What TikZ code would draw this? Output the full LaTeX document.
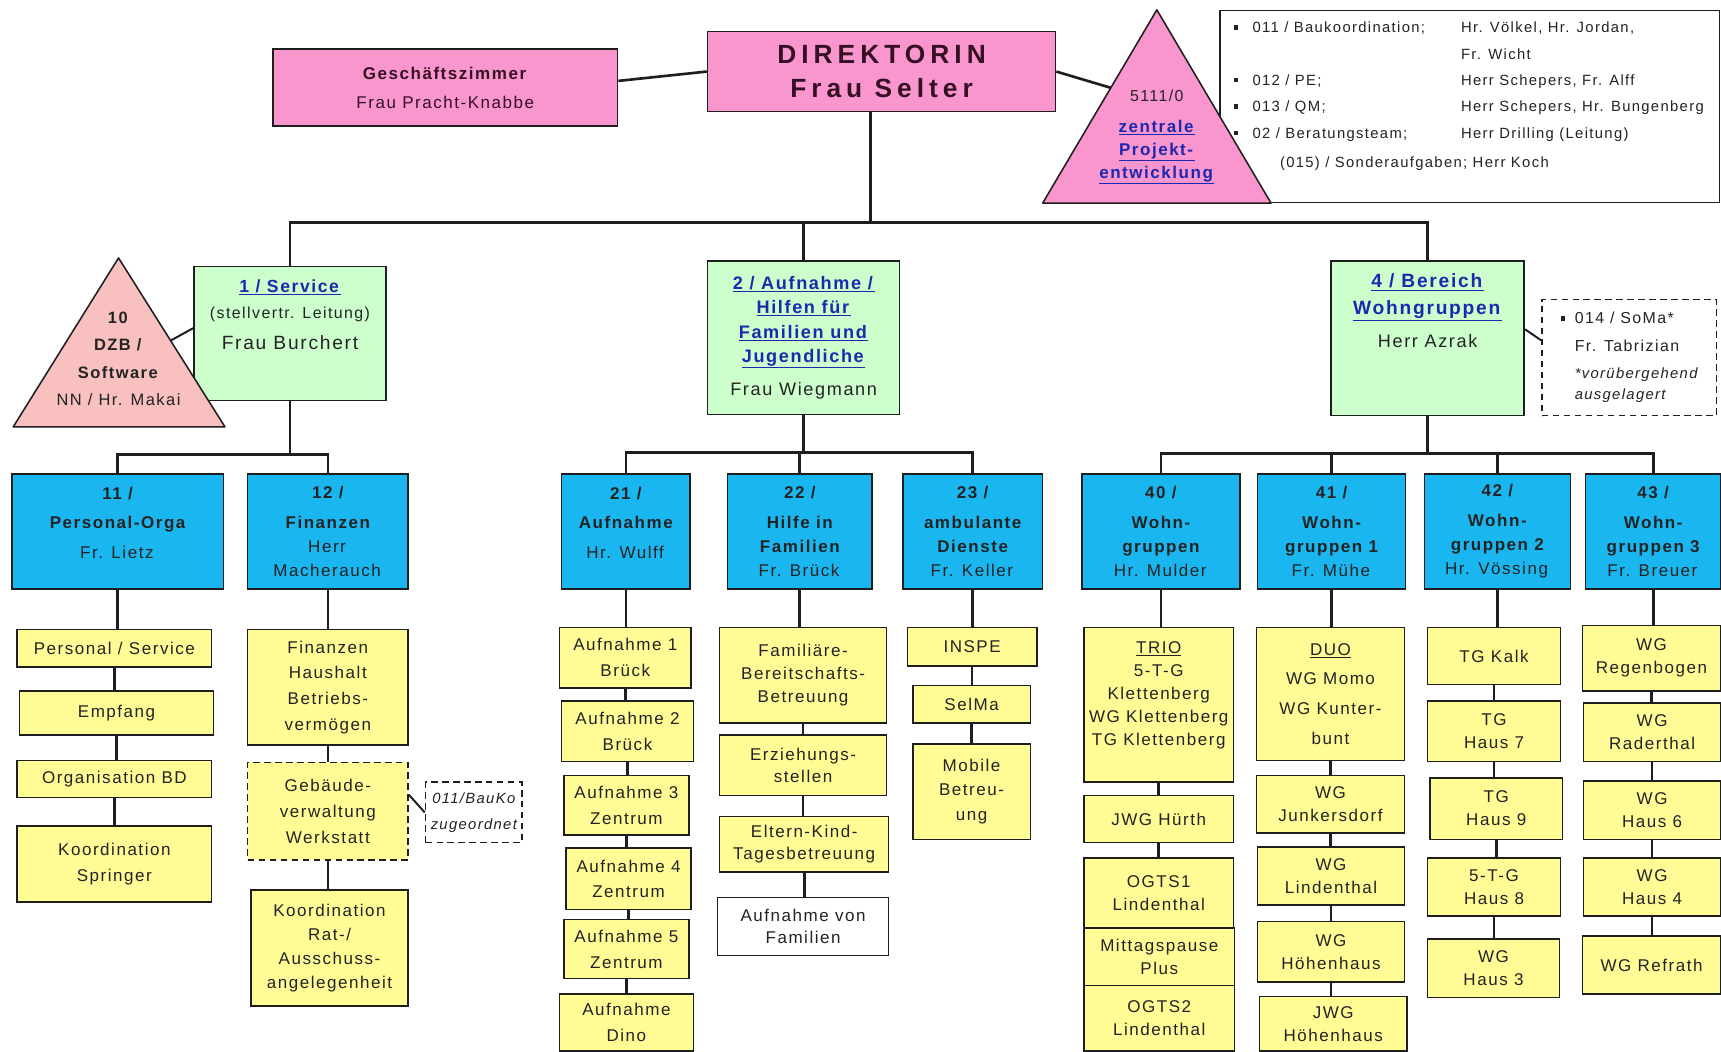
\documentclass[tikz,border=0pt]{standalone}
\usepackage{fontspec}
\setmainfont{Liberation Sans}
\newfontfamily\ls[LetterSpace=9]{Liberation Sans}
\newfontfamily\dirf[LetterSpace=19]{Liberation Sans}
\definecolor{pnk}{RGB}{248,150,205}
\definecolor{sal}{RGB}{249,192,192}
\definecolor{grn}{RGB}{204,255,204}
\definecolor{cyn}{RGB}{25,182,240}
\definecolor{yel}{RGB}{255,252,150}
\definecolor{lnk}{RGB}{30,40,175}
\definecolor{txt}{RGB}{35,35,35}
\definecolor{linec}{RGB}{30,30,30}
\definecolor{dtx}{RGB}{55,15,35}
\pgfdeclarelayer{background}
\pgfsetlayers{background,main}
\newcommand\mkbox[7]{\node[#1,minimum width={(#5-#3)*1pt},minimum height={(#6-#4)*1pt}] (#2) at (#3,#4) {#7};}
\newcommand\lnk[1]{\textcolor{lnk}{\underline{\textbf{#1}}}}
\newcommand\bul[1]{\makebox[#1][l]{\raisebox{3pt}{\rule{3.8pt}{3.8pt}}}}
\newcommand\lk[2]{\draw[con] (#1.south) -- (#1.south |- #2.north);}
\begin{document}
\begin{tikzpicture}[x=1pt,y=-1pt,
  bx/.style={draw=linec,line width=1.4pt,anchor=north west,inner sep=1pt,align=center,text=txt,font=\ls\fontsize{15.5}{23.5}\selectfont},
  yb/.style={bx,fill=yel},
  yb4/.style={bx,fill=yel,font=\ls\fontsize{15.5}{21}\selectfont},
  cb/.style={bx,fill=cyn,font=\ls\bfseries\fontsize{15.5}{22}\selectfont},
  gb/.style={bx,fill=grn},
  pb/.style={bx,fill=pnk},
  dyb/.style={yb,dashed,dash pattern=on 6pt off 4pt},
  db/.style={bx,fill=white,dash pattern=on 6pt off 4pt},
  ib/.style={bx,fill=white},
  tri/.style={draw=linec,line width=1.4pt,line join=round},
  con/.style={draw=linec,line width=2.4pt},
  con2/.style={draw=linec,line width=1.8pt},
  tx/.style={align=center,inner sep=0,text=txt}]
\useasboundingbox (0,0) rectangle (1568,958);
\begin{pgfonlayer}{background}
\fill[white] (0,0) rectangle (1568,958);
\end{pgfonlayer}

% ---- top row
\mkbox{pb,font=\ls\fontsize{15.5}{23.5}\selectfont,text=dtx}{gz}{248}{44}{562}{114}{\textbf{Geschäftszimmer}\\[3pt]Frau Pracht-Knabbe}
\mkbox{pb,font=\dirf\bfseries\fontsize{24}{31}\selectfont,text=dtx}{dir}{644}{28}{961}{101}{DIREKTORIN\\Frau Selter}
\mkbox{ib}{info}{1111}{9}{1566}{184}{}
\node[tx,align=left,anchor=north west,font=\ls\fontsize{13.5}{24}\selectfont] (infot) at (1124,20)
 {\bul{17pt}\makebox[190pt][l]{011 / Baukoordination;}Hr. Völkel, Hr. Jordan,\\
  \hspace*{207pt}Fr. Wicht\\
  \bul{17pt}\makebox[190pt][l]{012 / PE;}Herr Schepers, Fr. Alff\\
  \bul{17pt}\makebox[190pt][l]{013 / QM;}Herr Schepers, Hr. Bungenberg\\
  \bul{17pt}\makebox[190pt][l]{02 / Beratungsteam;}Herr Drilling (Leitung)\\[3pt]
  \bul{17pt}\hspace*{25pt}(015) / Sonderaufgaben; Herr Koch};
\filldraw[tri,fill=pnk] (1054,9) -- (950,185) -- (1158,185) -- cycle;
\coordinate (zpc) at (1012,80);
\node[tx,font=\ls\fontsize{15.5}{21}\selectfont] (zp) at (1054,125)
 {{\fontsize{14.5}{21}\selectfont 5111/0}\\[7pt]\lnk{zentrale}\\\lnk{Projekt-}\\\lnk{entwicklung}};

% ---- second row
\mkbox{gb}{svc}{176}{242}{351}{364}{}
\node[tx,anchor=north,font=\ls\fontsize{14.5}{23}\selectfont] (svct) at ([yshift=-13pt]svc.north)
 {{\fontsize{16}{23}\selectfont\lnk{1 / Service}}\\(stellvertr. Leitung)\\[6pt]{\fontsize{17.5}{20}\selectfont Frau Burchert}};
\filldraw[tri,fill=sal] (108,235) -- (12,389) -- (205,389) -- cycle;
\coordinate (dzbc) at (156,310);
\node[tx,font=\ls\fontsize{15}{25}\selectfont] (dzb) at (108,327)
 {\textbf{10}\\\textbf{DZB /}\\\textbf{Software}\\NN / Hr. Makai};
\mkbox{gb,font=\ls\fontsize{16.5}{22}\selectfont}{a2}{644}{237}{819}{377}
 {\lnk{2 / Aufnahme /}\\\lnk{Hilfen für}\\\lnk{Familien und}\\\lnk{Jugendliche}\\[8pt]Frau Wiegmann}
\mkbox{gb}{wg4}{1212}{237}{1388}{378}{}
\node[tx,anchor=north,font=\ls\fontsize{17.5}{24}\selectfont] (wg4t) at ([yshift=-12.5pt]wg4.north)
 {\lnk{4 / Bereich}\\\lnk{Wohngruppen}\\[6pt]{\fontsize{16.5}{20}\selectfont Herr Azrak}};
\mkbox{db,align=left,font=\ls\fontsize{14.5}{25}\selectfont}{soma}{1404}{272}{1563}{378}
 {\bul{13pt}014 / SoMa*\\\hspace*{13pt}Fr. Tabrizian\\\hspace*{13pt}{\fontsize{13.5}{18}\selectfont\itshape *vorübergehend}\\[-6pt]\hspace*{13pt}{\fontsize{13.5}{18}\selectfont\itshape ausgelagert}}

% ---- third row (cyan)
\mkbox{cb}{b11}{10}{431}{203}{536}{11 /\\[5pt]Personal-Orga\\[5pt]\textmd{Fr. Lietz}\\[-6pt]\mbox{}}
\mkbox{cb}{b12}{225}{431}{371}{536}{12 /\\[5pt]Finanzen\\\textmd{Herr}\\\textmd{Macherauch}}
\mkbox{cb}{b21}{511}{431}{628}{536}{21 /\\[5pt]Aufnahme\\[5pt]\textmd{Hr. Wulff}\\[-6pt]\mbox{}}
\mkbox{cb}{b22}{662}{431}{794}{536}{22 /\\[5pt]Hilfe in\\Familien\\\textmd{Fr. Brück}}
\mkbox{cb}{b23}{822}{431}{949}{536}{23 /\\[5pt]ambulante\\Dienste\\\textmd{Fr. Keller}}
\mkbox{cb}{b40}{985}{431}{1129}{536}{40 /\\[5pt]Wohn-\\gruppen\\\textmd{Hr. Mulder}}
\mkbox{cb}{b41}{1145}{431}{1280}{536}{41 /\\[5pt]Wohn-\\gruppen 1\\\textmd{Fr. Mühe}}
\mkbox{cb}{b42}{1297}{431}{1430}{536}{42 /\\[5pt]Wohn-\\gruppen 2\\\textmd{Hr. Vössing}}
\mkbox{cb}{b43}{1444}{431}{1567}{536}{43 /\\[5pt]Wohn-\\gruppen 3\\\textmd{Fr. Breuer}}

% ---- group 1 columns
\mkbox{yb}{ps}{15}{573}{192}{607}{Personal / Service}
\mkbox{yb}{emp}{17}{629}{194}{669}{Empfang}
\mkbox{yb}{org}{15}{692}{192}{726}{Organisation BD}
\mkbox{yb}{spr}{15}{752}{192}{821}{Koordination\\Springer}
\mkbox{yb}{fin}{225}{573}{371}{678}{Finanzen\\Haushalt\\Betriebs-\\vermögen}
\mkbox{dyb}{geb}{225}{694}{371}{783}{Gebäude-\\verwaltung\\Werkstatt}
\mkbox{yb,font=\ls\fontsize{15.5}{22}\selectfont}{krat}{228}{810}{371}{916}{Koordination\\Rat-/\\Ausschuss-\\angelegenheit}
\mkbox{db,font=\ls\itshape\fontsize{13.5}{24}\selectfont}{bauko}{387}{712}{475}{767}{011/BauKo\\zugeordnet}

% ---- group 2 columns
\mkbox{yb}{au1}{509}{571}{629}{626}{Aufnahme 1\\Brück}
\mkbox{yb}{au2}{511}{638}{631}{693}{Aufnahme 2\\Brück}
\mkbox{yb}{au3}{513}{706}{627}{760}{Aufnahme 3\\Zentrum}
\mkbox{yb}{au4}{515}{772}{629}{828}{Aufnahme 4\\Zentrum}
\mkbox{yb}{au5}{513}{837}{627}{891}{Aufnahme 5\\Zentrum}
\mkbox{yb}{dino}{509}{905}{631}{957}{Aufnahme\\Dino}
\mkbox{yb,font=\ls\fontsize{15.5}{21}\selectfont}{fam}{655}{571}{807}{658}{Familiäre-\\Bereitschafts-\\Betreuung}
\mkbox{yb,font=\ls\fontsize{15.5}{20}\selectfont}{erz}{655}{669}{807}{724}{Erziehungs-\\stellen}
\mkbox{yb,font=\ls\fontsize{15.5}{20}\selectfont}{elt}{655}{743}{809}{794}{Eltern-Kind-\\Tagesbetreuung}
\mkbox{yb,fill=white,font=\ls\fontsize{15.5}{20}\selectfont}{avf}{653}{817}{809}{870}{Aufnahme von\\Familien}
\mkbox{yb}{ins}{826}{571}{944}{606}{INSPE}
\mkbox{yb}{sel}{831}{624}{938}{658}{SelMa}
\mkbox{yb,font=\ls\fontsize{15.5}{22}\selectfont}{mob}{831}{677}{938}{764}{Mobile\\Betreu-\\ung}

% ---- group 4 columns
\mkbox{yb4}{trio}{987}{571}{1123}{712}{\underline{TRIO}\\5-T-G\\Klettenberg\\WG Klettenberg\\TG Klettenberg\\\mbox{}}
\mkbox{yb4}{jwgh}{987}{724}{1123}{767}{JWG Hürth}
\mkbox{yb4}{og1}{987}{781}{1123}{845}{OGTS1\\Lindenthal}
\mkbox{yb4}{mitt}{987}{845}{1124}{897}{Mittagspause\\Plus}
\mkbox{yb4}{og2}{987}{897}{1124}{957}{OGTS2\\Lindenthal}
\mkbox{yb4,font=\ls\fontsize{15.5}{27}\selectfont}{duo}{1144}{571}{1279}{692}{\underline{DUO}\\WG Momo\\WG Kunter-\\bunt}
\mkbox{yb4}{junk}{1144}{706}{1279}{758}{WG\\Junkersdorf}
\mkbox{yb4}{lind}{1145}{771}{1279}{824}{WG\\Lindenthal}
\mkbox{yb4}{hoh}{1145}{839}{1279}{894}{WG\\Höhenhaus}
\mkbox{yb4}{jhoh}{1147}{907}{1281}{957}{JWG\\Höhenhaus}
\mkbox{yb4}{kalk}{1300}{571}{1421}{623}{TG Kalk}
\mkbox{yb4}{h7}{1300}{638}{1421}{693}{TG\\Haus 7}
\mkbox{yb4}{h9}{1302}{708}{1423}{764}{TG\\Haus 9}
\mkbox{yb4}{h8}{1300}{781}{1421}{834}{5-T-G\\Haus 8}
\mkbox{yb4}{h3}{1300}{855}{1420}{908}{WG\\Haus 3}
\mkbox{yb4}{reg}{1441}{569}{1567}{629}{WG\\Regenbogen}
\mkbox{yb4}{rad}{1442}{640}{1567}{693}{WG\\Raderthal}
\mkbox{yb4}{h6}{1442}{711}{1567}{764}{WG\\Haus 6}
\mkbox{yb4}{h4}{1442}{781}{1567}{834}{WG\\Haus 4}
\mkbox{yb4}{refr}{1441}{852}{1567}{905}{WG Refrath}

% ---- connectors
\begin{pgfonlayer}{background}
\coordinate (bus0) at (0,203);
\coordinate (bus1) at (0,414);
\coordinate (bus2) at (0,412);
\coordinate (bus4) at (0,413);
\coordinate (dirb) at ([xshift=-10pt]dir.south);
\draw[con] ([yshift=6pt]gz.east) -- (dir.west);
\draw[con] (dir.east) -- (zpc);
\draw[con] (dirb) -- (dirb |- bus0);
\draw[con] (svc.north) -- (svc.north |- bus0) -- (wg4.north |- bus0) -- (wg4.north);
\draw[con] (a2.north) -- (a2.north |- bus0);
\draw[con2] (dzbc) -- ([yshift=-57pt]svc.north west);
\draw[con2] ([yshift=-63pt]wg4.north east) -- ([yshift=-38pt]soma.north west);
\draw[con2] ([yshift=-30pt]geb.north east) -- (bauko.west);
% group 1
\draw[con] (svc.south) -- (svc.south |- bus1);
\draw[con] (b11.north) -- (b11.north |- bus1) -- (b12.north |- bus1) -- (b12.north);
\lk{b11}{ps}\lk{ps}{emp}\lk{emp}{org}\lk{org}{spr}
\lk{b12}{fin}\lk{fin}{geb}\lk{geb}{krat}
% group 2
\draw[con] (a2.south) -- (a2.south |- bus2);
\draw[con] (b21.north) -- (b21.north |- bus2) -- (b23.north |- bus2) -- (b23.north);
\draw[con] (b22.north) -- (b22.north |- bus2);
\lk{b21}{au1}\lk{au1}{au2}\lk{au2}{au3}\lk{au3}{au4}\lk{au4}{au5}\lk{au5}{dino}
\lk{b22}{fam}\lk{fam}{erz}\lk{erz}{elt}\lk{elt}{avf}
\lk{b23}{ins}\lk{ins}{sel}\lk{sel}{mob}
% group 4
\draw[con] (wg4.south) -- (wg4.south |- bus4);
\draw[con] (b40.north) -- (b40.north |- bus4) -- (b43.north |- bus4) -- (b43.north);
\draw[con] (b41.north) -- (b41.north |- bus4);
\draw[con] (b42.north) -- (b42.north |- bus4);
\lk{b40}{trio}\lk{trio}{jwgh}\lk{jwgh}{og1}
\lk{b41}{duo}\lk{duo}{junk}\lk{junk}{lind}\lk{lind}{hoh}\lk{hoh}{jhoh}
\lk{b42}{kalk}\lk{kalk}{h7}\lk{h7}{h9}\lk{h9}{h8}\lk{h8}{h3}
\lk{b43}{reg}\lk{reg}{rad}\lk{rad}{h6}\lk{h6}{h4}\lk{h4}{refr}
\end{pgfonlayer}
\end{tikzpicture}
\end{document}
